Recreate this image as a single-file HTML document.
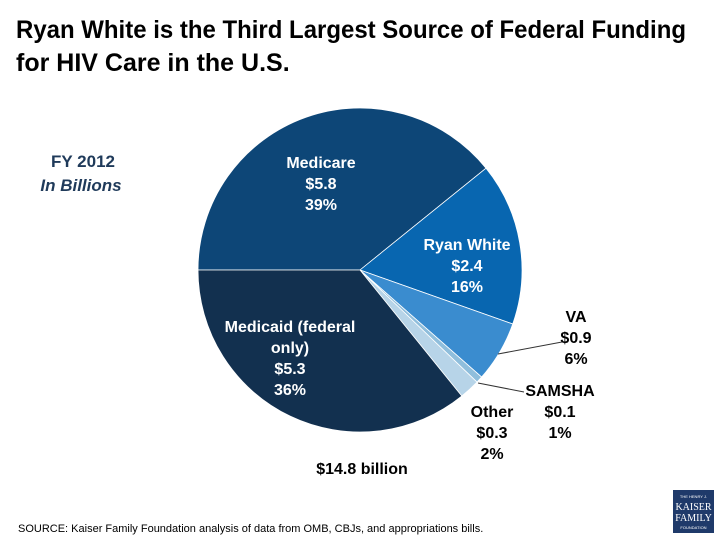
<!DOCTYPE html>
<html><head><meta charset="utf-8"><style>
body{margin:0;width:720px;height:540px;background:#fff;overflow:hidden;font-family:"Liberation Sans",Calibri,sans-serif;}
svg{position:absolute;left:0;top:0}
</style></head><body>
<svg id="c" width="720" height="540">
<text x="16" y="38" font-size="25" font-weight="bold" fill="#000" textLength="670" lengthAdjust="spacingAndGlyphs">Ryan White is the Third Largest Source of Federal Funding</text>
<text x="16" y="71" font-size="25" font-weight="bold" fill="#000">for HIV Care in the U.S.</text>
<text x="83" y="167" font-size="17" font-weight="bold" fill="#1f3a5a" text-anchor="middle">FY 2012</text>
<text x="81" y="191" font-size="17" font-weight="bold" font-style="italic" fill="#1f3a5a" text-anchor="middle">In Billions</text>
<g id="pie"></g>
<g id="labels" font-size="16" font-weight="bold" text-anchor="middle"></g>
<line x1="498" y1="354" x2="562" y2="342" stroke="#333" stroke-width="1"/>
<line x1="478" y1="383" x2="524" y2="392" stroke="#333" stroke-width="1"/>
<text x="362" y="474" font-size="16" font-weight="bold" text-anchor="middle" fill="#000">$14.8 billion</text>
<text x="18" y="532" font-size="11" fill="#000">SOURCE: Kaiser Family Foundation analysis of data from OMB, CBJs, and appropriations bills.</text>
<g>
<rect x="673" y="490" width="41" height="43" fill="#1f3a6a"/>
<text x="693.5" y="498" font-size="4" fill="#fff" text-anchor="middle">THE HENRY J.</text>
<text x="693.5" y="510" font-size="10" fill="#fff" text-anchor="middle" font-family="Liberation Serif,serif">KAISER</text>
<text x="693.5" y="521" font-size="10" fill="#fff" text-anchor="middle" font-family="Liberation Serif,serif">FAMILY</text>
<text x="693.5" y="529" font-size="4" fill="#fff" text-anchor="middle">FOUNDATION</text>
</g>
</svg>
<script>
const categories=["Medicare","Ryan White","VA","SAMSHA","Other","Medicaid"];
const values=[5.8,2.4,0.9,0.1,0.3,5.3];
const colors=["#0d4677","#0866b0","#3a8ccf","#8fbedc","#b7d4e8","#12304f"];
const cx=360,cy=270,r=162,startDeg=180;
const ns="http://www.w3.org/2000/svg";
const total=values.reduce((a,b)=>a+b,0);
const pie=document.getElementById('pie');
function pt(deg,rad){const a=deg*Math.PI/180;return [cx+rad*Math.cos(a),cy+rad*Math.sin(a)];}
let ang=startDeg;const mids=[];
values.forEach((v,i)=>{
  const sweep=v/total*360;const a0=ang,a1=ang+sweep;
  const p0=pt(a0,r),p1=pt(a1,r);
  const p=document.createElementNS(ns,'path');
  p.setAttribute('d',`M${cx},${cy}L${p0[0]},${p0[1]}A${r},${r} 0 ${sweep>180?1:0} 1 ${p1[0]},${p1[1]}Z`);
  p.setAttribute('fill',colors[i]);p.setAttribute('stroke','#fff');p.setAttribute('stroke-width','0.8');
  
  
  pie.appendChild(p);
  mids.push((a0+a1)/2);ang=a1;
});
const lab=document.getElementById('labels');
function txt(lines,x,y,fill,name){
  const t=document.createElementNS(ns,'text');t.setAttribute('fill',fill);
  
  
  lines.forEach((l,k)=>{const s=document.createElementNS(ns,'tspan');s.setAttribute('x',x);s.setAttribute('y',y+k*21);s.textContent=l;t.appendChild(s);});
  lab.appendChild(t);
}
const pct=values.map(v=>Math.round(v/total*100)+'%');
const money=values.map(v=>'$'+v.toFixed(1));
txt(["Medicare",money[0],pct[0]],321,168,"#fff","medicare-label");
txt(["Ryan White",money[1],pct[1]],467,250,"#fff","ryan-white-label");
txt(["Medicaid (federal","only)",money[5],pct[5]],290,332,"#fff","medicaid-label");
txt(["VA",money[2],pct[2]],576,322,"#000","va-label");
txt(["SAMSHA",money[3],pct[3]],560,396,"#000","samsha-label");
txt(["Other",money[4],pct[4]],492,417,"#000","other-label");
</script>
</body></html>
